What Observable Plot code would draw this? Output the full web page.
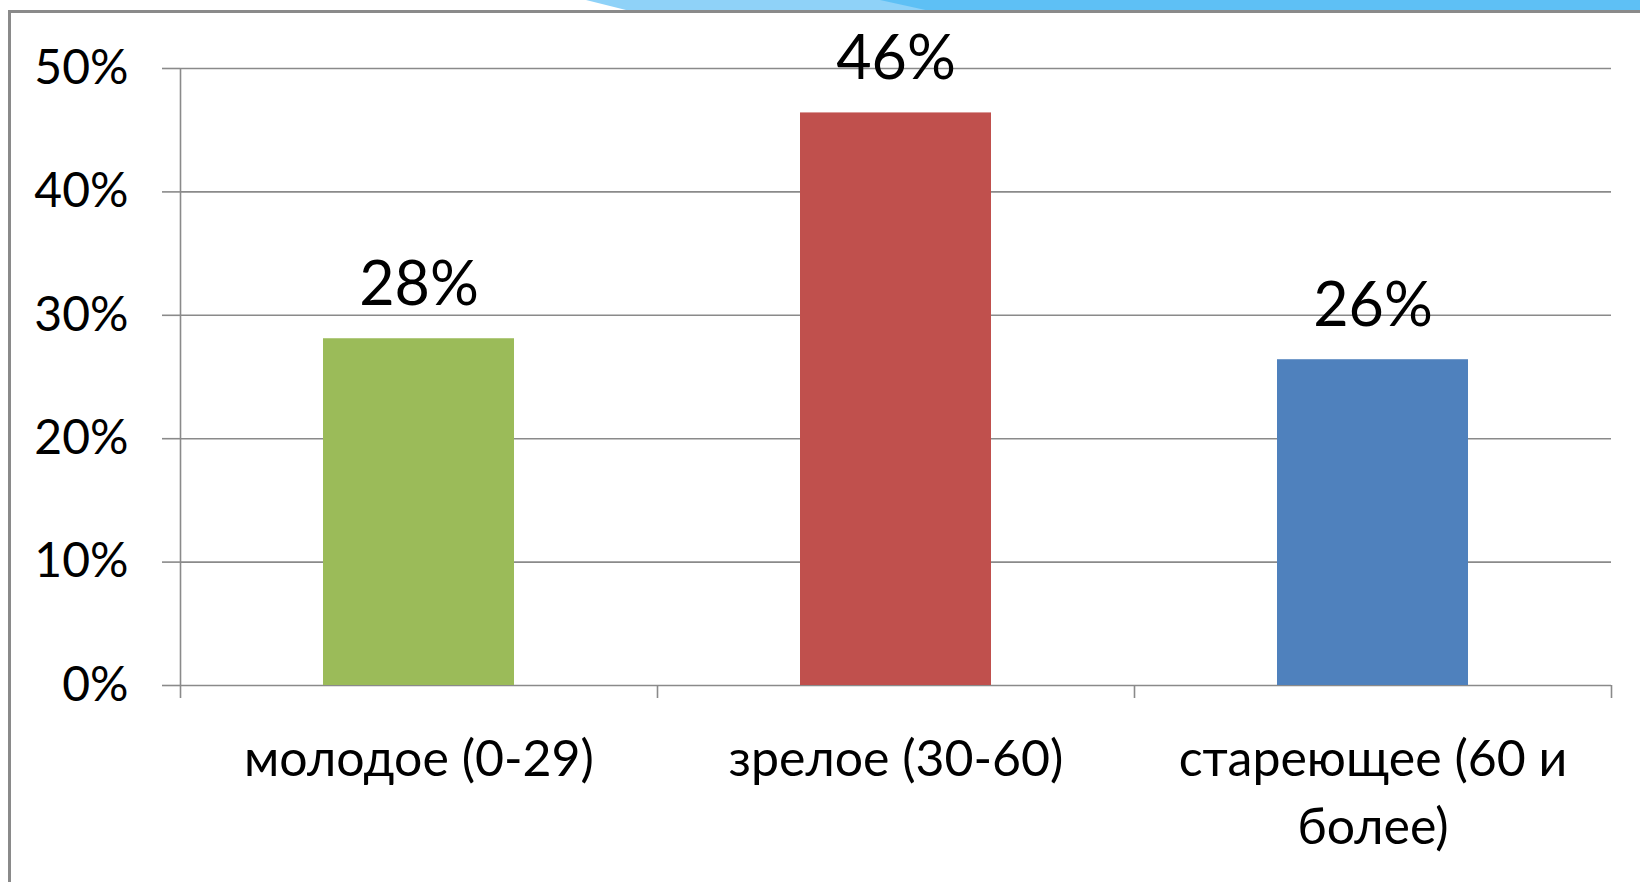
<!DOCTYPE html>
<html>
<head>
<meta charset="utf-8">
<script src="https://cdn.jsdelivr.net/npm/d3@7"></script>
<script src="https://cdn.jsdelivr.net/npm/@observablehq/plot@0.6"></script>
<style>
  html, body { margin: 0; padding: 0; background: #fff; }
  #wrap { position: relative; width: 1640px; height: 882px; overflow: hidden; background: #fff; }
  #wrap svg { position: absolute; left: 0; top: 0; }
  .deco1 { position: absolute; left: 0; top: 0; width: 1640px; height: 11px; background: #8fd2f8;
           clip-path: polygon(586px 0, 1640px 0, 1640px 11px, 630px 11px); }
  .deco2 { position: absolute; left: 0; top: 0; width: 1640px; height: 11px; background: #5ec0f5;
           clip-path: polygon(880px 0, 1640px 0, 1640px 11px, 930px 11px); }
  .frameTop { position: absolute; left: 8px; top: 10px; width: 1632px; height: 3px; background: #8a8a8a; }
  .frameLeft { position: absolute; left: 8px; top: 10px; width: 3px; height: 872px; background: #8a8a8a; }
</style>
</head>
<body>
<div id="wrap">
  <div class="deco1"></div>
  <div class="deco2"></div>
  <div class="frameTop"></div>
  <div class="frameLeft"></div>
</div>
<script>
const categories = ["молодое (0-29)", "зрелое (30-60)", "стареющее (60 и более)"];
const tickLabels = ["молодое (0-29)", "зрелое (30-60)", "стареющее (60 и\nболее)"];
const values = [28.1, 46.4, 26.4];
const valueLabels = ["28%", "46%", "26%"];
const colors = ["#9BBB59", "#C0504D", "#4F81BD"];
const yTicks = [0, 10, 20, 30, 40, 50];

const data = categories.map((c, i) => ({category: c, value: values[i], label: valueLabels[i]}));

const W = 1640, H = 882, mL = 180, mR = 29, mT = 68, mB = 197;
const step = (W - mL - mR) / categories.length;
const gray = "#8a8a8a";
const font = "Lato, 'Noto Sans', sans-serif";

const chart = Plot.plot({
  width: W,
  height: H,
  marginLeft: mL,
  marginRight: mR,
  marginTop: mT,
  marginBottom: mB,
  style: {fontFamily: font, background: "transparent", color: "#000", overflow: "visible"},
  x: {domain: categories, paddingInner: 0.6, paddingOuter: 0.3, label: null},
  y: {domain: [0, 50], label: null},
  color: {domain: categories, range: colors},
  marks: [
    Plot.gridY(yTicks, {stroke: gray, strokeOpacity: 1, strokeWidth: 1.6}),
    Plot.ruleX([categories[0]], {x: d => d, dx: -step / 2, y1: 50, y2: 0, insetBottom: -13, stroke: gray, strokeWidth: 1.6}),
    Plot.ruleX(categories.slice(1), {x: d => d, dx: -step / 2, y1: 0, y2: 0, insetBottom: -13, stroke: gray, strokeWidth: 1.6}),
    Plot.ruleX([categories[categories.length - 1]], {x: d => d, dx: step / 2, y1: 0, y2: 0, insetBottom: -13, stroke: gray, strokeWidth: 1.6}),
    Plot.barY(data, {x: "category", y: "value", fill: "category"}),
    Plot.text(data, {x: "category", y: "value", text: "label", dy: -34, lineAnchor: "bottom", fontSize: 61, fill: "#000"}),
    Plot.axisY(yTicks, {tickSize: 18, tickPadding: 34, tickFormat: d => d + "%", fontSize: 48, stroke: gray, strokeWidth: 1.6, fill: "#000", label: null}),
    Plot.axisX({tickSize: 0, tickPadding: 42, fontSize: 50, lineHeight: 1.36, fill: "#000", label: null,
                tickFormat: d => tickLabels[categories.indexOf(d)]})
  ]
});
document.getElementById("wrap").appendChild(chart);
</script>
</body>
</html>
